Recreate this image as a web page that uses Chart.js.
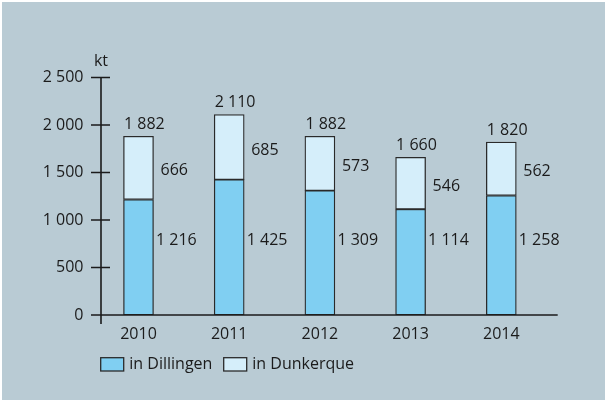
<!DOCTYPE html>
<html>
<head>
<meta charset="utf-8">
<script src="https://cdn.jsdelivr.net/npm/chart.js@4"></script>
<style>
  html, body { margin: 0; padding: 0; background: #fff; }
  #wrap { position: absolute; left: 0; top: 0; width: 606px; height: 401px; }
</style>
</head>
<body>
<div id="wrap"><canvas id="chart" width="606" height="401"></canvas></div>
<script>
// --- data ---
const years = ['2010', '2011', '2012', '2013', '2014'];
const dillingen = [1216, 1425, 1309, 1114, 1258];
const dunkerque = [666, 685, 573, 546, 562];
const totals = [1882, 2110, 1882, 1660, 1820];
const yTicks = [0, 500, 1000, 1500, 2000, 2500];
const yTickLabels = ['0', '500', '1 000', '1 500', '2 000', '2 500'];
const unitLabel = 'kt';
const seriesNames = ['in Dillingen', 'in Dunkerque'];

// number with a space as thousands separator
const fmt = v => String(v).replace(/\B(?=(\d{3})+(?!\d))/g, ' ');

const FONT = '16px "Open Sans", "Noto Sans", sans-serif';
const INK = '#1b1b1b';
const BG = '#b9cbd4';
const C_DIL = '#80cff2';
const C_DUN = '#d5eefa';

// --- custom drawing: background, axes, labels, legend ---
const decor = {
  id: 'decor',
  beforeDraw(chart) {
    const c = chart.ctx;
    c.save();
    c.fillStyle = '#fff';
    c.fillRect(0, 0, chart.width, chart.height);
    c.fillStyle = BG;
    c.fillRect(2, 2, chart.width - 3, chart.height - 3);
    c.restore();
  },
  afterDatasetsDraw(chart) {
    const c = chart.ctx;
    const x = chart.scales.x;
    const y = chart.scales.y;
    const axisX = 101;
    const y0 = y.getPixelForValue(0);

    c.save();
    c.strokeStyle = INK;
    c.lineWidth = 1.6;

    // y axis + ticks
    c.beginPath();
    c.moveTo(axisX, y.getPixelForValue(2500));
    c.lineTo(axisX, y0 + 9);
    yTicks.forEach(t => {
      const py = y.getPixelForValue(t);
      c.moveTo(axisX - 10, py);
      c.lineTo(axisX + 9, py);
    });
    // x axis
    c.moveTo(axisX - 10, y0);
    c.lineTo(557.7, y0);
    c.stroke();

    c.fillStyle = INK;
    c.font = FONT;
    c.textBaseline = 'middle';

    // y tick labels
    c.textAlign = 'right';
    yTicks.forEach((t, i) => {
      c.fillText(yTickLabels[i], 83.5, y.getPixelForValue(t));
    });

    // unit
    c.textAlign = 'center';
    c.fillText(unitLabel, axisX, 61);

    // x labels
    years.forEach((yr, i) => {
      c.fillText(yr, x.getPixelForValue(i), y0 + 19);
    });

    // value labels
    const meta0 = chart.getDatasetMeta(0);
    const meta1 = chart.getDatasetMeta(1);
    years.forEach((yr, i) => {
      const bar = meta1.data[i];
      const half = bar.width / 2;
      const left = bar.x - half;
      const right = bar.x + half;
      const topPx = y.getPixelForValue(dillingen[i] + dunkerque[i]);
      const divPx = y.getPixelForValue(dillingen[i]);

      c.textAlign = 'left';
      c.fillText(fmt(totals[i]), left + 0.5, topPx - 12);
      c.fillText(fmt(dunkerque[i]), right + 7, (topPx + divPx) / 2 + 3);
      c.fillText(fmt(dillingen[i]), right + 2.5, y.getPixelForValue(790));
    });

    // legend
    const legend = [
      { bx: 100.7, tx: 129.3, color: C_DIL, name: seriesNames[0] },
      { bx: 223.7, tx: 252.3, color: C_DUN, name: seriesNames[1] }
    ];
    legend.forEach(l => {
      c.fillStyle = l.color;
      c.fillRect(l.bx, 357.7, 23, 13.3);
      c.lineWidth = 1.3;
      c.strokeStyle = '#2a2a2a';
      c.strokeRect(l.bx, 357.7, 23, 13.3);
      c.fillStyle = INK;
      c.textAlign = 'left';
      c.fillText(l.name, l.tx, 364.5);
    });
    c.restore();
  }
};

const ctx = document.getElementById('chart').getContext('2d');
new Chart(ctx, {
  type: 'bar',
  data: {
    labels: years,
    datasets: [
      {
        label: seriesNames[0],
        data: dillingen,
        backgroundColor: C_DIL,
        borderColor: '#2a2a2a',
        borderWidth: 1.3,
        borderSkipped: false,
        barThickness: 30
      },
      {
        label: seriesNames[1],
        data: dunkerque,
        backgroundColor: C_DUN,
        borderColor: '#2a2a2a',
        borderWidth: 1.3,
        borderSkipped: false,
        barThickness: 30
      }
    ]
  },
  options: {
    responsive: false,
    animation: false,
    events: [],
    layout: { padding: { left: 93.15, right: 59.35, top: 77.5, bottom: 86 } },
    plugins: { legend: { display: false }, tooltip: { enabled: false } },
    scales: {
      x: { stacked: true, display: false },
      y: { stacked: true, display: false, min: 0, max: 2500, ticks: { stepSize: 500 } }
    }
  },
  plugins: [decor]
});
</script>
</body>
</html>
